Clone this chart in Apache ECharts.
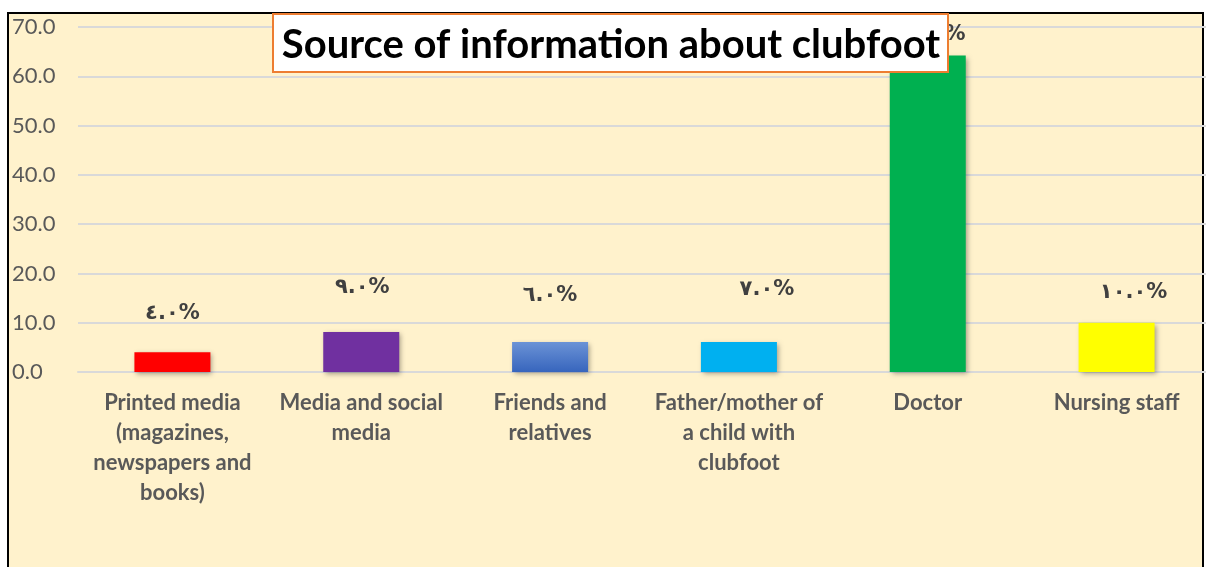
<!DOCTYPE html>
<html lang="en" style="height: 100%">
<head>
  <meta charset="utf-8">
</head>
<body style="height: 100%; margin: 0; background: #fff; overflow: hidden">
  <div id="container" style="width: 1214px; height: 567px"></div>
  <script type="text/javascript" src="https://cdn.jsdelivr.net/npm/echarts@6/dist/echarts.min.js"></script>
  <script type="text/javascript">
    // data
    var categories = [
      'Printed media\n(magazines,\nnewspapers and\nbooks)',
      'Media and social\nmedia',
      'Friends and\nrelatives',
      'Father/mother of\na child with\nclubfoot',
      'Doctor',
      'Nursing staff'
    ];
    var values = [4.0, 8.1, 6.1, 6.1, 64.2, 10.0];
    var labelTexts = ['٤.٠%', '٩.٠%', '٦.٠%', '٧.٠%', '٦٤.٠%', '١٠.٠%'];
    var yTicks = [0, 10, 20, 30, 40, 50, 60, 70];

    // styles
    var barColors = [
      '#FF0000',
      '#7030A0',
      new echarts.graphic.LinearGradient(0, 0, 0, 1, [
        { offset: 0, color: '#6B93D6' },
        { offset: 1, color: '#3765BD' }
      ]),
      '#00B0F0',
      '#00B050',
      '#FFFF00'
    ];
    var labelOffsets = [[0, -23], [1, -29], [0, -31], [28, -37], [4, -6], [17, -15]];

    var dom = document.getElementById('container');
    var myChart = echarts.init(dom, null, { renderer: 'canvas' });

    var option = {
      backgroundColor: '#ffffff',
      animation: false,
      graphic: [
        {
          type: 'rect',
          z: -10,
          shape: { x: 8, y: 13, width: 1195, height: 600 },
          style: { fill: '#FFF2CC', stroke: '#000000', lineWidth: 2 }
        },
        {
          type: 'rect',
          z: -10,
          shape: { x: 1204, y: 0, width: 20, height: 600 },
          style: { fill: '#ffffff' }
        },
        {
          type: 'group',
          z: 100,
          children: [
            {
              type: 'rect',
              z: 100,
              shape: { x: 273, y: 14, width: 675, height: 58 },
              style: { fill: '#ffffff', stroke: '#ED7D31', lineWidth: 2 }
            },
            {
              type: 'text',
              z: 101,
              x: 611,
              y: 45,
              style: {
                text: 'Source of information about clubfoot',
                fontFamily: 'Lato',
                fontWeight: 'bold',
                fontSize: 40,
                fill: '#000000',
                align: 'center',
                verticalAlign: 'middle'
              }
            }
          ]
        }
      ],
      grid: {
        left: 78,
        width: 1133,
        top: 27,
        bottom: 195,
        containLabel: false
      },
      xAxis: {
        type: 'category',
        data: categories,
        axisLine: { show: true, lineStyle: { color: '#D9D9D9', width: 2 } },
        axisTick: { show: false },
        axisLabel: {
          interval: 0,
          margin: 16,
          fontFamily: 'Lato',
          fontWeight: 'bold',
          fontSize: 22,
          lineHeight: 30,
          color: '#595959',
          align: 'center'
        }
      },
      yAxis: {
        type: 'value',
        min: yTicks[0],
        max: yTicks[yTicks.length - 1],
        interval: 10,
        axisLine: { show: false },
        axisTick: { show: false },
        splitLine: { lineStyle: { color: '#D9D9D9', width: 2 } },
        axisLabel: {
          align: 'left',
          margin: 66,
          fontFamily: 'Lato',
          fontSize: 22,
          color: '#595959',
          formatter: function (v) { return v.toFixed(1); }
        }
      },
      series: [
        {
          type: 'bar',
          barWidth: 76,
          data: values.map(function (v, i) {
            return {
              value: v,
              itemStyle: { color: barColors[i] },
              label: { offset: labelOffsets[i] }
            };
          }),
          itemStyle: {
            shadowBlur: 5,
            shadowColor: 'rgba(0,0,0,0.35)',
            shadowOffsetX: 2,
            shadowOffsetY: 2
          },
          label: {
            show: true,
            position: 'top',
            fontFamily: 'DejaVu Sans',
            fontWeight: 'bold',
            fontSize: 21,
            color: '#404040',
            formatter: function (p) { return labelTexts[p.dataIndex]; }
          }
        }
      ]
    };

    myChart.setOption(option);
    window.addEventListener('resize', myChart.resize);
  </script>
</body>
</html>
